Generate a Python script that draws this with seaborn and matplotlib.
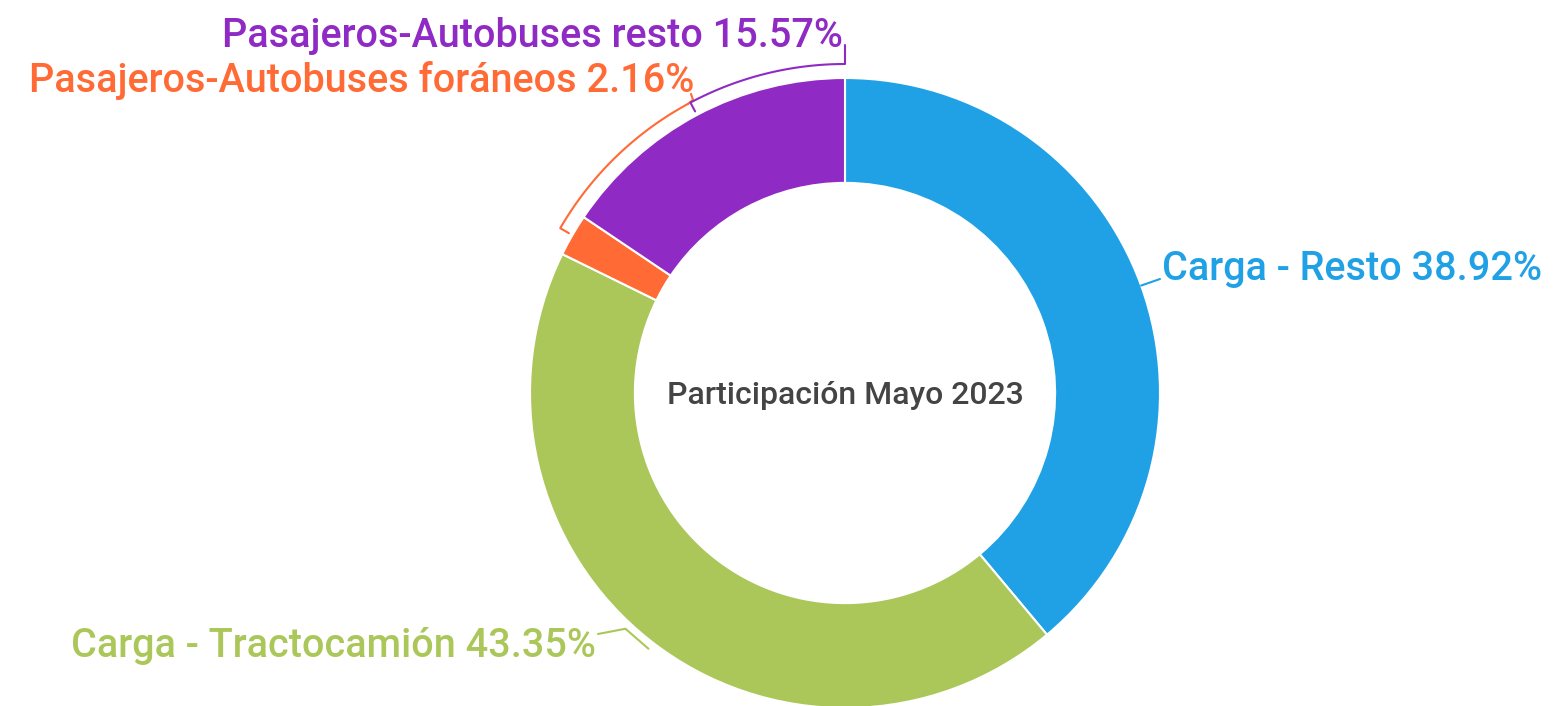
import numpy as np
import seaborn as sns
import matplotlib.pyplot as plt

# Data (clockwise from 12 o'clock).
categories = ['Carga - Resto', 'Carga - Tractocamión',
              'Pasajeros-Autobuses foráneos', 'Pasajeros-Autobuses resto']
shares = [38.92, 43.35, 2.16, 15.57]
colors = ['#20a1e5', '#abc75a', '#ff6a35', '#8f2bc4']
center_title = 'Participación Mayo 2023'

sns.set_theme(style='white')
plt.rcParams['font.family'] = ['Roboto', 'DejaVu Sans']

W, H = 1567, 706
fig = plt.figure(figsize=(W / 100, H / 100), dpi=100)
ax = fig.add_axes([0, 0, 1, 1])

cx, cy, R = 845, 313, 315
wedges, _ = ax.pie(shares, colors=sns.color_palette(colors), startangle=90,
                   counterclock=False, center=(cx, cy), radius=R,
                   wedgeprops=dict(width=R * 0.333, edgecolor='white', linewidth=1.5))
ax.set_xlim(0, W)
ax.set_ylim(0, H)
ax.set_aspect('equal')
ax.axis('off')

ax.text(cx, cy - 2, center_title, ha='center', va='center', fontsize=23,
        color='#444444', fontweight='medium')

# mid angle of every wedge (degrees, counter-clockwise from 3 o'clock)
frac = np.array(shares) / sum(shares)
cum = np.cumsum(frac) - frac / 2
mids = list((90 - 360 * cum) % 360)


def pt(ang, r):
    a = np.deg2rad(ang)
    return cx + r * np.cos(a), cy + r * np.sin(a)


labels = [f'{c} {v:.2f}%' for c, v in zip(categories, shares)]
fs = 28.5

# Carga - Resto
x0, y0 = pt(mids[0], R)
ax.plot([x0, 1160], [y0, 427], color=colors[0], lw=1.5)
ax.text(1162, 437, labels[0], ha='left', va='center', fontsize=fs,
        color=colors[0], fontweight='medium')

# Carga - Tractocamión
x0, y0 = pt(mids[1], R)
ax.plot([x0 - 2, x0 - 25, 598], [y0 - 8, y0 + 12, 72], color=colors[1], lw=1.5)
ax.text(596, 60, labels[1], ha='right', va='center', fontsize=fs,
        color=colors[1], fontweight='medium')

# Pasajeros-Autobuses foráneos (bracket along the arc)
Rb = R + 14
x0, y0 = pt(mids[2], R + 4)
x1, y1 = pt(mids[2], Rb)
arc = np.linspace(mids[2], 118.5, 60)
ax.plot([x0, x1] + list(cx + Rb * np.cos(np.deg2rad(arc))),
        [y0, y1] + list(cy + Rb * np.sin(np.deg2rad(arc))), color=colors[2], lw=1.5)
xe, ye = pt(118.5, Rb)
ax.plot([xe, xe + 5, xe + 3], [ye, ye + 4, ye + 10], color=colors[2], lw=1.5)
ax.text(694, 625, labels[2], ha='right', va='center', fontsize=fs,
        color=colors[2], fontweight='medium')

# Pasajeros-Autobuses resto
x0, y0 = pt(mids[3], R + 4)
x1, y1 = pt(mids[3], Rb)
arc = np.linspace(mids[3], 90, 60)
ax.plot([x0, x1] + list(cx + Rb * np.cos(np.deg2rad(arc))) + [cx],
        [y0, y1] + list(cy + Rb * np.sin(np.deg2rad(arc))) + [H - 45],
        color=colors[3], lw=1.5)
ax.text(843, 670, labels[3], ha='right', va='center', fontsize=fs,
        color=colors[3], fontweight='medium')

fig.savefig('out.png', dpi=100, facecolor='white')
